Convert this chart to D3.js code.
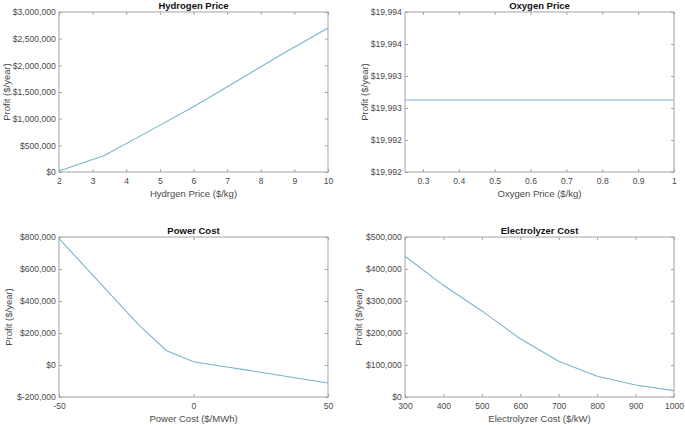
<!DOCTYPE html>
<html>
<head>
<meta charset="utf-8">
<script src="https://cdn.jsdelivr.net/npm/d3@7"></script>
<style>
  html, body { margin: 0; padding: 0; background: #ffffff; }
  svg { display: block; font-family: "Liberation Sans", Arial, Helvetica, sans-serif; }
</style>
</head>
<body>
<svg id="chart" width="685" height="425"></svg>
<script>
// ---------- data ----------
const hydrogenPrice  = [2, 3.333, 4.667, 6, 7.333, 8.667, 10];
const hydrogenProfit = [20000, 306000, 762000, 1222000, 1722000, 2222000, 2700000];
const hydrogenXTicks = [2, 3, 4, 5, 6, 7, 8, 9, 10];
const hydrogenYTicks = [0, 500000, 1000000, 1500000, 2000000, 2500000, 3000000];

const oxygenPrice  = [0.25, 0.375, 0.5, 0.625, 0.75, 0.875, 1];
const oxygenProfit = [19992.9, 19992.9, 19992.9, 19992.9, 19992.9, 19992.9, 19992.9];
const oxygenXTicks = [0.3, 0.4, 0.5, 0.6, 0.7, 0.8, 0.9, 1];
const oxygenYTicks = [19992, 19992.4, 19992.8, 19993.2, 19993.6, 19994];

const powerCost   = [-50, -40, -30, -20, -10, 0, 10, 20, 30, 40, 50];
const powerProfit = [790000, 608000, 426000, 245000, 89000, 20000, -6000, -32000, -59000, -86000, -113000];
const powerXTicks = [-50, 0, 50];
const powerYTicks = [-200000, 0, 200000, 400000, 600000, 800000];

const electrolyzerCost   = [300, 400, 500, 600, 700, 800, 900, 1000];
const electrolyzerProfit = [440000, 349000, 269000, 182000, 112000, 65000, 37500, 20000];
const electrolyzerXTicks = [300, 400, 500, 600, 700, 800, 900, 1000];
const electrolyzerYTicks = [0, 100000, 200000, 300000, 400000, 500000];

const titles  = ["Hydrogen Price", "Oxygen Price", "Power Cost", "Electrolyzer Cost"];
const xLabels = ["Hydrgen Price ($/kg)", "Oxygen Price ($/kg)", "Power Cost ($/MWh)", "Electrolyzer Cost ($/kW)"];
const yLabel  = "Profit ($/year)";

// ---------- styles ----------
const LINE = "#7bb4c9";
const BOX = "#a3a3a3";
const TEXT = "#4a4a4a";

const locale = d3.formatLocale({decimal: ".", thousands: ",", grouping: [3], currency: ["$", ""], minus: "-"});
const fmtNum = locale.format(",.0f");
const money = v => "$" + fmtNum(Math.round(v));
const plain = locale.format("~g");

const svg = d3.select("#chart");

const panels = [
  {x: hydrogenPrice, y: hydrogenProfit, xd: [2, 10], yd: [0, 3000000], xt: hydrogenXTicks, yt: hydrogenYTicks,
   box: {l: 59, r: 328, t: 12, b: 172}, ylx: 10},
  {x: oxygenPrice, y: oxygenProfit, xd: [0.25, 1], yd: [19992, 19994], xt: oxygenXTicks, yt: oxygenYTicks,
   box: {l: 405, r: 674, t: 12, b: 172}, ylx: 368},
  {x: powerCost, y: powerProfit, xd: [-50, 50], yd: [-200000, 800000], xt: powerXTicks, yt: powerYTicks,
   box: {l: 59, r: 328, t: 237, b: 397}, ylx: 12},
  {x: electrolyzerCost, y: electrolyzerProfit, xd: [300, 1000], yd: [0, 500000], xt: electrolyzerXTicks, yt: electrolyzerYTicks,
   box: {l: 405, r: 674, t: 237, b: 397}, ylx: 362}
];

panels.forEach((p, i) => {
  const b = p.box;
  const x = d3.scaleLinear().domain(p.xd).range([b.l, b.r]);
  const y = d3.scaleLinear().domain(p.yd).range([b.b, b.t]);
  const g = svg.append("g");

  const tl = 3;
  const ax = g.append("g").attr("transform", `translate(0,${b.b})`)
    .call(d3.axisBottom(x).tickValues(p.xt).tickSizeInner(-tl).tickSizeOuter(0).tickPadding(5.5).tickFormat(plain));
  const axT = g.append("g").attr("transform", `translate(0,${b.t})`)
    .call(d3.axisTop(x).tickValues(p.xt).tickSizeInner(-tl).tickSizeOuter(0).tickFormat(""));
  const ay = g.append("g").attr("transform", `translate(${b.l},0)`)
    .call(d3.axisLeft(y).tickValues(p.yt).tickSizeInner(-tl).tickSizeOuter(0).tickPadding(3.2).tickFormat(money));
  const ayR = g.append("g").attr("transform", `translate(${b.r},0)`)
    .call(d3.axisRight(y).tickValues(p.yt).tickSizeInner(-tl).tickSizeOuter(0).tickFormat(""));

  [ax, axT, ay, ayR].forEach(a => {
    a.select(".domain").remove();
    a.selectAll(".tick line").attr("stroke", BOX).attr("stroke-width", 1);
    a.selectAll(".tick text").attr("fill", TEXT).attr("font-size", "8.6px")
      .attr("font-family", "Liberation Sans, Arial, sans-serif");
  });

  g.append("rect").attr("x", b.l).attr("y", b.t).attr("width", b.r - b.l).attr("height", b.b - b.t)
    .attr("fill", "none").attr("stroke", BOX).attr("stroke-width", 1);

  const pts = p.x.map((v, k) => [v, p.y[k]]);
  g.append("path").datum(pts)
    .attr("d", d3.line().x(d => x(d[0])).y(d => y(d[1])))
    .attr("fill", "none").attr("stroke", LINE).attr("stroke-width", 1.1);

  g.append("text").attr("x", (b.l + b.r) / 2).attr("y", b.t - 3)
    .attr("text-anchor", "middle").attr("font-size", "9.5px").attr("font-weight", "bold")
    .attr("fill", "#111").text(titles[i]);

  g.append("text").attr("x", (b.l + b.r) / 2).attr("y", b.b + 24.5)
    .attr("text-anchor", "middle").attr("font-size", "9.5px").attr("fill", TEXT).text(xLabels[i]);

  g.append("text").attr("transform", `translate(${p.ylx},${(b.t + b.b) / 2}) rotate(-90)`)
    .attr("text-anchor", "middle").attr("font-size", "9.5px").attr("fill", TEXT).text(yLabel);
});
</script>
</body>
</html>
